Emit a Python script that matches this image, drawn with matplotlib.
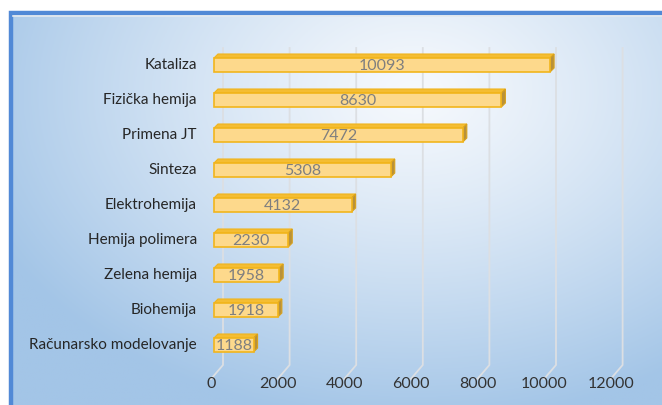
import numpy as np
import matplotlib.pyplot as plt
from matplotlib.patches import Polygon, Rectangle
from matplotlib.colors import to_rgb

categories = ["Kataliza", "Fizička hemija", "Primena JT", "Sinteza", "Elektrohemija",
              "Hemija polimera", "Zelena hemija", "Biohemija", "Računarsko modelovanje"]
values = [10093, 8630, 7472, 5308, 4132, 2230, 1958, 1918, 1188]
xticks = [0, 2000, 4000, 6000, 8000, 10000, 12000]

plt.rcParams['font.family'] = ['Lato', 'DejaVu Sans']

W, H = 662, 405
fig = plt.figure(figsize=(W / 100, H / 100), dpi=100)
ax = fig.add_axes([0, 0, 1, 1])

# pixel mapping: value 0 -> px 214, 1000 units -> 33.3 px ; category i -> px 65 + 35*i
sx = 0.0333
x0 = 214
def px2x(p):
    return (p - x0) / sx
def py2y(p):
    return (p - 65) / 35

ax.set_xlim(px2x(0), px2x(W))
ax.set_ylim(py2y(H), py2y(0))
ax.axis('off')

# background gradient
gx, gy = np.meshgrid(np.linspace(0, 1, 300), np.linspace(0, 1, 200))
d = np.sqrt(((gx - 0.62) / 0.72) ** 2 + ((gy - 0.2) / 0.85) ** 2)
d = np.clip(d, 0, 1) ** 1.2
c1 = np.array(to_rgb("#f6f9fd"))
c2 = np.array(to_rgb("#a3c5e7"))
img = c1 + (c2 - c1) * d[..., None]
ax.imshow(img, extent=(px2x(11), px2x(W), py2y(H), py2y(14)), aspect='auto', zorder=0)

# blue frame
ax.add_patch(Rectangle((px2x(11), py2y(H + 20)), px2x(W + 20) - px2x(11),
                       py2y(13) - py2y(H + 20), fill=False, ec="#5189d6", lw=3.2, zorder=1))
ax.plot([px2x(13), px2x(W)], [py2y(15.5), py2y(15.5)], color="#e4e9ee", lw=1.2, zorder=1)

# 3D grid
back_dx = 9 / sx
front_dx = -3 / sx
for v in xticks:
    ax.plot([v + back_dx, v + back_dx, v + front_dx],
            [py2y(48), py2y(365), py2y(379)], color="#dcdfe3", lw=1.3, zorder=2)
    ax.text(v - 80, py2y(384), str(v), ha='center', va='center', fontsize=11.5, color="#333333")

# bars
ypos = np.arange(len(categories))
bh = 0.4
ddx = 4 / sx
ddy = 4 / 35
ax.barh(ypos, values, height=bh, color="#fdd98c", edgecolor="#f2b51c", lw=1.2, zorder=4)
for y, v, name in zip(ypos, values, categories):
    top = y - bh / 2
    ax.add_patch(Polygon([(0, top), (ddx, top - ddy), (v + ddx, top - ddy), (v, top)],
                         closed=True, fc="#f4bd33", ec="#f0b41c", lw=0.8, zorder=3))
    ax.add_patch(Polygon([(v, top), (v + ddx, top - ddy), (v + ddx, y + bh / 2 - ddy), (v, y + bh / 2)],
                         closed=True, fc="#b8913a", ec="#d9a21c", lw=0.8, zorder=3))
    ax.text(v / 2, y + 0.02, str(v), ha='center', va='center', fontsize=11.5, color="#7f7f7f", zorder=5)
    ax.text(px2x(197), y, name, ha='right', va='center', fontsize=11, color="#262626")

fig.savefig("out.png", dpi=100)
